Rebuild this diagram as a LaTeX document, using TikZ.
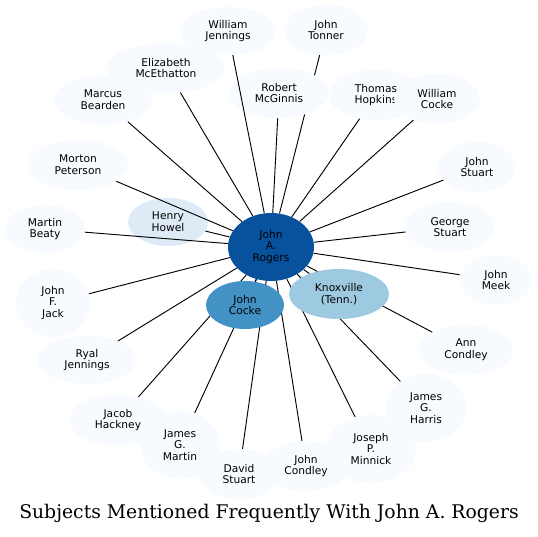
\documentclass[tikz,border=0pt]{standalone}
\usepackage{fontspec}
\setmainfont{DejaVu Sans}
\newfontfamily\titlefont{DejaVu Serif}
\usetikzlibrary{shapes.geometric, backgrounds}

\definecolor{hubblue}{HTML}{08519C}
\definecolor{midblue}{HTML}{4292C6}
\definecolor{softblue}{HTML}{9ECAE1}
\definecolor{paleblue}{HTML}{DEEBF7}
\definecolor{faintblue}{HTML}{F7FBFF}

\begin{document}
\begin{tikzpicture}[
    x=0.75pt, y=-0.75pt,
    person/.style={ellipse, fill=faintblue, inner sep=0pt, align=center, minimum height=37.5pt, font=\fontsize{8}{8.8}\selectfont},
    link/.style={draw=black, line width=0.7pt}
]
    \useasboundingbox (0,0) rectangle (538,536);

    % the person at the middle
    \node[person, fill=hubblue, minimum width=64.5pt, minimum height=51pt] (rogers) at (271,247) {John\\A.\\Rogers};

    % upper ring
    \node[person, minimum width=72pt, minimum height=36pt] (wjennings) at (228,31) {William\\Jennings};
    \node[person, minimum width=63pt] (tonner) at (326,30) {John\\Tonner};
    \node[person, minimum width=88.5pt] (mcethatton) at (166,68) {Elizabeth\\McEthatton};
    \node[person, minimum width=75pt] (mcginnis) at (279,93) {Robert\\McGinnis};
    \node[person, minimum width=70.5pt] (hopkins) at (376,95) {Thomas\\Hopkins};
    \node[person, minimum width=64.5pt] (wcocke) at (437,99) {William\\Cocke};
    \node[person, minimum width=73.5pt] (bearden) at (103,100) {Marcus\\Bearden};

    % left side
    \node[person, minimum width=75pt] (peterson) at (78,165) {Morton\\Peterson};
    \node[person, fill=paleblue, minimum width=60pt, minimum height=36pt] (howel) at (168,222) {Henry\\Howel};
    \node[person, minimum width=60pt, minimum height=36pt] (beaty) at (45,229) {Martin\\Beaty};
    \node[person, minimum width=55.5pt, minimum height=51pt] (jack) at (53,303) {John\\F.\\Jack};
    \node[person, minimum width=73.5pt, minimum height=36pt] (rjennings) at (87,360) {Ryal\\Jennings};

    % right side
    \node[person, minimum width=58.5pt] (jstuart) at (477,167) {John\\Stuart};
    \node[person, minimum width=67.5pt] (gstuart) at (450,227) {George\\Stuart};
    \node[person, minimum width=55.5pt] (meek) at (496,280) {John\\Meek};
    \node[person, minimum width=70.5pt] (acondley) at (466,350) {Ann\\Condley};

    % lower ring
    \node[person, minimum width=73.5pt] (hackney) at (118,420) {Jacob\\Hackney};
    \node[person, minimum width=60pt, minimum height=51pt] (gmartin) at (180,445) {James\\G.\\Martin};
    \node[person, minimum width=60pt] (dstuart) at (239,474) {David\\Stuart};
    \node[person, minimum width=66pt] (jcondley) at (306,466) {John\\Condley};
    \node[person, minimum width=67.5pt, minimum height=51pt] (minnick) at (371,449) {Joseph\\P.\\Minnick};
    \node[person, minimum width=60pt, minimum height=51pt] (harris) at (426,408) {James\\G.\\Harris};

    % the two close ones
    \node[person, fill=midblue, minimum width=58.5pt, minimum height=36pt] (jcocke) at (245,305) {John\\Cocke};
    \node[person, fill=softblue, minimum width=75pt] (knoxville) at (339,294) {Knoxville\\(Tenn.)};

    % these run under other ellipses
    \begin{pgfonlayer}{background}
    \draw[link] (rogers) -- (tonner);
    \draw[link] (rogers) -- (hackney);
    \draw[link] (rogers) -- (gmartin);
    \draw[link] (rogers) -- (dstuart);
    \draw[link] (rogers) -- (jcondley);
    \draw[link] (rogers) -- (minnick);
    \draw[link] (rogers) -- (harris);
    \draw[link] (rogers) -- (acondley);
    \draw[link] (rogers) -- (jcocke);
    \draw[link] (rogers) -- (knoxville);
    \end{pgfonlayer}

    % these run over them
    \draw[link] (rogers) -- (wjennings);
    \draw[link] (rogers) -- (mcethatton);
    \draw[link] (rogers) -- (mcginnis);
    \draw[link] (rogers) -- (hopkins);
    \draw[link] (rogers) -- (wcocke);
    \draw[link] (rogers) -- (bearden);
    \draw[link] (rogers) -- (peterson);
    \draw[link] (rogers) -- (howel);
    \draw[link] (rogers) -- (beaty);
    \draw[link] (rogers) -- (jack);
    \draw[link] (rogers) -- (rjennings);
    \draw[link] (rogers) -- (jstuart);
    \draw[link] (rogers) -- (gstuart);
    \draw[link] (rogers) -- (meek);

    \node[font=\titlefont\fontsize{14.1}{16}\selectfont] (title) at (269,513) {Subjects Mentioned Frequently With John A. Rogers};
\end{tikzpicture}
\end{document}
